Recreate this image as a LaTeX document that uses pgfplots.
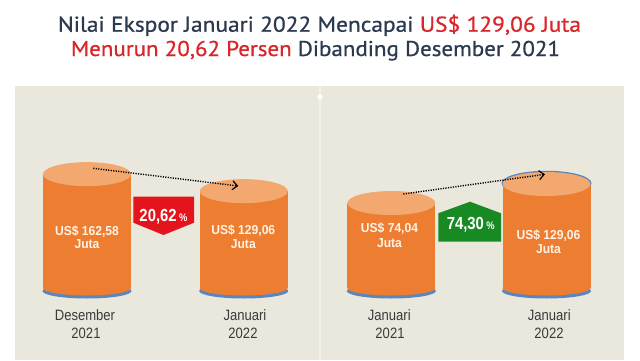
\documentclass[border=0pt]{standalone}
\usepackage{fontspec}
\setmainfont{Liberation Sans}
\newfontfamily\titlefont[FakeBold=0.7]{PT Sans}
\usepackage{graphicx}
\usepackage{pgfplots}
\pgfplotsset{compat=1.18}
\usetikzlibrary{arrows.meta}
\definecolor{panelbg}{HTML}{EAE7DD}
\definecolor{sepline}{HTML}{F2F0EA}
\definecolor{navy}{HTML}{2B3A4E}
\definecolor{tred}{HTML}{D9262B}
\definecolor{bodyor}{HTML}{ED7D31}
\definecolor{topor}{HTML}{F3A870}
\definecolor{rimblue}{HTML}{5A86C0}
\definecolor{boxred}{HTML}{E3141B}
\definecolor{boxgreen}{HTML}{178A24}
\definecolor{labgray}{HTML}{3A3A3A}
\definecolor{cyltext}{HTML}{FFF3E6}

\pgfdeclareplotmark{cyltop}{\pgfpathellipse{\pgfpointorigin}{\pgfqpoint{44pt}{0pt}}{\pgfqpoint{0pt}{12pt}}\pgfusepathqfill}
\pgfdeclareplotmark{cyltoprim}{\pgfpathellipse{\pgfqpoint{0pt}{0.8pt}}{\pgfqpoint{45pt}{0pt}}{\pgfqpoint{0pt}{12.5pt}}\pgfusepathqfill}
\pgfdeclareplotmark{cylbot}{\pgfpathellipse{\pgfpointorigin}{\pgfqpoint{44pt}{0pt}}{\pgfqpoint{0pt}{7.5pt}}\pgfusepathqfill}
\pgfdeclareplotmark{cylbotrim}{\pgfpathellipse{\pgfqpoint{0pt}{-3pt}}{\pgfqpoint{44.5pt}{0pt}}{\pgfqpoint{0pt}{7.5pt}}\pgfusepathqfill}

\pgfplotsset{cylaxis/.style={hide axis, scale only axis, clip=false,
  enlargelimits=false, xmin=-0.5, xmax=1.5, anchor=south west}}

\newcommand{\cyltxt}[5]{%
  \node[anchor=base, inner sep=0, text=cyltext] at (#1,#2) {\scalebox{0.93}[1]{\fontsize{13}{15}\selectfont\bfseries #4}};
  \node[anchor=base, inner sep=0, text=cyltext] at (#1,#3) {\scalebox{0.93}[1]{\fontsize{13}{15}\selectfont\bfseries #5}};}
\newcommand{\lab}[4]{%
  \node[anchor=base, inner sep=0, text=labgray] at (#1,40) {\scalebox{0.87}[1]{\fontsize{15}{18}\selectfont #3}};
  \node[anchor=base, inner sep=0, text=labgray] at (#2,21.7) {\scalebox{0.87}[1]{\fontsize{15}{18}\selectfont #4}};}

\begin{document}
\begin{tikzpicture}
\useasboundingbox (0pt,0pt) rectangle (640pt,360pt);
\begin{scope}[x=1pt,y=1pt]
\fill[white] (0,0) rectangle (640,360);
\fill[panelbg] (15,0) rectangle (624,274);
\fill[sepline] (319,0) rectangle (321,274);
\fill[white] (320,263) circle (2.5);
% title
\node[anchor=base, inner sep=0] at (319.5,328.3) {\resizebox{523pt}{\height}{\titlefont\fontsize{21.4}{24}\selectfont\color{navy}Nilai Ekspor Januari 2022 Mencapai \color{tred}US\$ 129,06 Juta}};
\node[anchor=base, inner sep=0] at (315.5,304) {\resizebox{489pt}{\height}{\titlefont\fontsize{21.4}{24}\selectfont\color{tred}Menurun 20,62 Persen \color{navy}Dibanding Desember 2021}};
\end{scope}

% left panel: Desember 2021 vs Januari 2022
\begin{axis}[cylaxis, at={(8.65pt,72pt)}, width=313.4pt, height=152.1pt, ymin=-62, ymax=238]
\addplot[only marks, mark=cylbotrim, mark options={fill=rimblue, draw=none}] coordinates {(0,-62) (1,-62)};
\addplot[only marks, mark=cylbot, mark options={fill=bodyor, draw=none}] coordinates {(0,-62) (1,-62)};
\addplot[fill=bodyor, draw=none] coordinates {(-0.2808,-62) (-0.2808,162.58) (0.2808,162.58) (0.2808,-62)};
\addplot[fill=bodyor, draw=none] coordinates {(0.7192,-62) (0.7192,129.06) (1.2808,129.06) (1.2808,-62)};
\addplot[only marks, mark=cyltop, mark options={fill=topor, draw=none}] coordinates {(0,162.58) (1,129.06)};
\end{axis}

% right panel: Januari 2021 vs Januari 2022
\begin{axis}[cylaxis, at={(313.7pt,72pt)}, width=310.4pt, height=138.12pt, ymin=-172, ymax=228]
\addplot[only marks, mark=cylbotrim, mark options={fill=rimblue, draw=none}] coordinates {(0,-172) (1,-172)};
\addplot[only marks, mark=cylbot, mark options={fill=bodyor, draw=none}] coordinates {(0,-172) (1,-172)};
\addplot[only marks, mark=cyltoprim, mark options={fill=rimblue, draw=none}] coordinates {(1,129.06)};
\addplot[fill=bodyor, draw=none] coordinates {(-0.2835,-172) (-0.2835,74.04) (0.2835,74.04) (0.2835,-172)};
\addplot[fill=bodyor, draw=none] coordinates {(0.7165,-172) (0.7165,129.06) (1.2835,129.06) (1.2835,-172)};
\addplot[only marks, mark=cyltop, mark options={fill=topor, draw=none}] coordinates {(0,74.04) (1,129.06)};
\end{axis}

\begin{scope}[x=1pt,y=1pt]
% dotted arrows
\draw[line width=1.4pt, dash pattern=on 1.2pt off 1.3pt, -{Straight Barb[length=5pt,width=9pt,line width=1.2pt]}] (93.3,191.7) -- (238.3,174);
\draw[line width=1.4pt, dash pattern=on 1.2pt off 1.3pt, -{Straight Barb[length=5pt,width=9pt,line width=1.2pt]}] (403.3,166) -- (545,185.7);
% percentage boxes
\fill[boxred] (133.3,163.3) -- (194,163.3) -- (194,137.3) -- (163.5,125) -- (133.3,137.3) -- cycle;
\node[anchor=base, inner sep=0, text=white] at (163.5,138.3) {\scalebox{0.85}[1]{\bfseries\fontsize{17.5}{20}\selectfont 20,62\,{\fontsize{11}{13}\selectfont\%}}};
\fill[boxgreen] (438.3,118.3) -- (501,118.3) -- (501,146.7) -- (470,158.3) -- (438.3,146.7) -- cycle;
\node[anchor=base, inner sep=0, text=white] at (470.8,130.7) {\scalebox{0.85}[1]{\bfseries\fontsize{17.5}{20}\selectfont 74,30\,{\fontsize{11}{13}\selectfont\%}}};
% values inside cylinders
\cyltxt{87}{124.5}{111.3}{US\$ 162,58}{Juta}
\cyltxt{243.3}{125.5}{111.8}{US\$ 129,06}{Juta}
\cyltxt{389.5}{127.2}{112.4}{US\$ 74,04}{Juta}
\cyltxt{548.5}{120.5}{106.4}{US\$ 129,06}{Juta}
% category labels
\lab{85}{86}{Desember}{2021}
\lab{245}{243}{Januari}{2022}
\lab{389.3}{390}{Januari}{2021}
\lab{549.3}{549}{Januari}{2022}
\end{scope}
\end{tikzpicture}
\end{document}
